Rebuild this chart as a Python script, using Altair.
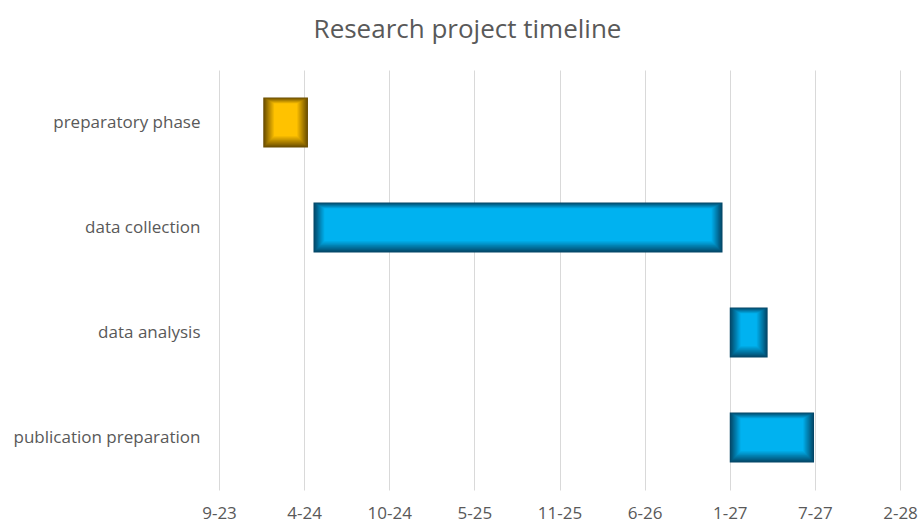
import altair as alt
import pandas as pd

# ---- data ----
tasks = ["preparatory phase", "data collection", "data analysis", "publication preparation"]
starts = ["2024-01-01", "2024-04-28", "2027-01-01", "2027-01-01"]
ends = ["2024-04-15", "2026-12-15", "2027-03-31", "2027-07-18"]
phase = ["preparation", "execution", "execution", "execution"]

# axis ticks (Excel major unit of 200 days), labelled m-yy
tick_dates = [(2023, 9, 19), (2024, 4, 6), (2024, 10, 23), (2025, 5, 11), (2025, 11, 27),
              (2026, 6, 15), (2027, 1, 1), (2027, 7, 20), (2028, 2, 5)]

df = pd.DataFrame({"task": tasks, "start": starts, "end": ends, "phase": phase})

phases = ["preparation", "execution"]
bright = {"preparation": (255, 194, 0), "execution": (0, 178, 240)}
dark = {"preparation": (105, 76, 0), "execution": (4, 70, 102)}

def mix(a, b, t):
    return "#%02x%02x%02x" % tuple(int(round(a[i] + (b[i] - a[i]) * t)) for i in range(3))

def dt(t):
    return alt.DateTime(year=t[0], month=t[1], date=t[2], utc=True)

x_scale = alt.Scale(type="utc", domain=[dt(tick_dates[0]), dt(tick_dates[-1])], nice=False)
y_scale = alt.Scale(domain=tasks, paddingInner=0.524, paddingOuter=0.262)

x_axis = alt.Axis(values=[dt(d) for d in tick_dates], format="%-m-%y",
                  title=None, grid=True, gridColor="#d9d9d9", gridWidth=1,
                  ticks=False, domain=False, labelPadding=15, labelFlush=False,
                  labelFontSize=17, labelColor="#595959", labelFont="Open Sans")
y_axis = alt.Axis(title=None, ticks=False, domain=False, grid=False,
                  labelPadding=19, labelFontSize=17, labelColor="#595959",
                  labelFont="Open Sans", labelLimit=300)

base = alt.Chart(df)

BAR_H = 50
N = 12
layers = []
for k in range(N + 1):
    t = (k / N) ** 1.0
    top = k * 0.5
    bot = k * 0.95
    side = k * 0.9
    rng = [mix(dark[p], bright[p], t) for p in phases]
    if k == 0:
        xenc = alt.X("start:T", scale=x_scale, axis=x_axis)
        yenc = alt.Y("task:N", scale=y_scale, sort=tasks, axis=y_axis)
    else:
        xenc = alt.X("start:T", scale=x_scale)
        yenc = alt.Y("task:N", scale=y_scale, sort=tasks)
    layer = base.mark_bar(
        height=BAR_H - top - bot,
        yOffset=(top - bot) / 2,
        xOffset=side,
        x2Offset=-side,
    ).encode(
        x=xenc,
        x2="end:T",
        y=yenc,
        color=alt.Color("phase:N", scale=alt.Scale(domain=phases, range=rng), legend=None),
    )
    layers.append(layer)

chart = alt.layer(*layers).resolve_scale(color="independent").properties(
    width=681,
    height=420,
    autosize=alt.AutoSizeParams(type="none"),
    padding={"left": 219, "top": 70, "right": 19, "bottom": 33},
    title=alt.TitleParams("Research project timeline", fontSize=26, color="#595959",
                          font="Open Sans", fontWeight="normal", anchor="middle",
                          dx=-92, offset=27),
).configure_view(stroke=None)

chart.save("out.html", embed_options={"renderer": "svg", "actions": False})
